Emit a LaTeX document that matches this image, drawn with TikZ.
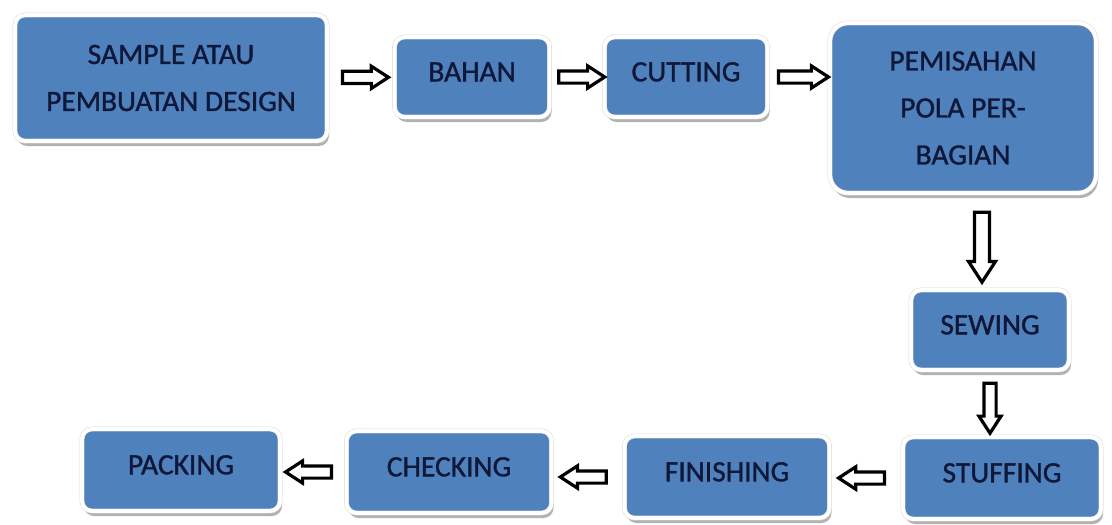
\documentclass[tikz,border=0pt]{standalone}
\usepackage{fontspec}
\setmainfont{Carlito}
\newfontfamily\boxfont{Carlito}[FakeBold=1.2]
\usepackage{tikz}
\usetikzlibrary{shapes.arrows,
shadows,
calc}

\definecolor{boxBlue}{RGB}{79,129,189}
\definecolor{textNavy}{RGB}{16,24,58}

\begin{document}
\begin{tikzpicture}[
    x=1pt,
    y=-1pt,
    font=\boxfont\fontsize{29.5pt}{47pt}\selectfont,
    task/.style={
        rectangle,
        rounded corners=10pt,
        fill=boxBlue,
        draw=gray!30,
        double=white,
        double distance=3.8pt,
        line width=0.5pt,
        text=textNavy,
        align=center,
        inner sep=0pt,
        drop shadow={
            shadow xshift=2pt,
            shadow yshift=-5pt,
            fill=black,
            opacity=0.3
        }
    },
    shortTask/.style={
        task,
        text height=18.7pt,
        text depth=10pt
    },
    blockArrow/.style={
        single arrow,
        draw=black,
        fill=white,
        line width=3.2pt,
        inner xsep=0pt,
        inner ysep=4.5pt,
        text height=0pt,
        text depth=0pt,
        minimum width=22pt,
        single arrow head extend=5pt,
        single arrow tip angle=66,
        minimum height=46pt,
        sloped,
        allow upside down
    }
]

%------------------------------------------------------------------------------
% Page
%------------------------------------------------------------------------------

\fill[white] (0,0) rectangle (1112,525);

%------------------------------------------------------------------------------
% Top row
%------------------------------------------------------------------------------

\node[task, minimum width=312pt, minimum height=126pt] (sample) at (171,78)
    {SAMPLE ATAU\\PEMBUATAN DESIGN};

\node[shortTask, minimum width=155pt, minimum height=80pt] (bahan) at (472,77)
    {BAHAN};

\node[shortTask, minimum width=163pt, minimum height=80pt] (cutting) at (686,77)
    {CUTTING};

\node[task, rounded corners=18pt, minimum width=266pt, minimum height=170pt]
    (pemisahan) at (963,108)
    {PEMISAHAN\\POLA PER-\\BAGIAN};

%------------------------------------------------------------------------------
% Right column and bottom row
%------------------------------------------------------------------------------

\node[shortTask, minimum width=158pt, minimum height=80pt] (sewing) at (990,330)
    {SEWING};

\node[shortTask, minimum width=198pt, minimum height=82pt] (stuffing) at (1002,478)
    {STUFFING};

\node[shortTask, minimum width=205pt, minimum height=82pt] (finishing) at (727,477)
    {FINISHING};

\node[shortTask, minimum width=205pt, minimum height=82pt] (checking) at (449,472)
    {CHECKING};

\node[shortTask, minimum width=198pt, minimum height=82pt] (packing) at (181,470)
    {PACKING};

%------------------------------------------------------------------------------
% Block arrows
%------------------------------------------------------------------------------

\path (sample) -- node[blockArrow] (toBahan) {} (bahan);

\path (bahan) -- node[blockArrow] (toCutting) {} (cutting);

\path (cutting.east) -- node[blockArrow, minimum height=50pt] (toPemisahan) {}
    (cutting.east -| pemisahan.west);

\path ([xshift=-8pt]sewing.north |- pemisahan.south)
    -- node[blockArrow, minimum height=70pt, minimum width=27pt] (toSewing) {}
    ([xshift=-8pt]sewing.north);

\path (sewing.south)
    -- node[blockArrow, minimum height=50pt, minimum width=20pt] (toStuffing) {}
    (sewing.south |- stuffing.north);

\path (stuffing.west) -- node[blockArrow] (toFinishing) {}
    (stuffing.west -| finishing.east);

\path (finishing.west) -- node[blockArrow] (toChecking) {}
    (finishing.west -| checking.east);

\path (checking.west) -- node[blockArrow] (toPacking) {}
    (checking.west -| packing.east);

\end{tikzpicture}
\end{document}
